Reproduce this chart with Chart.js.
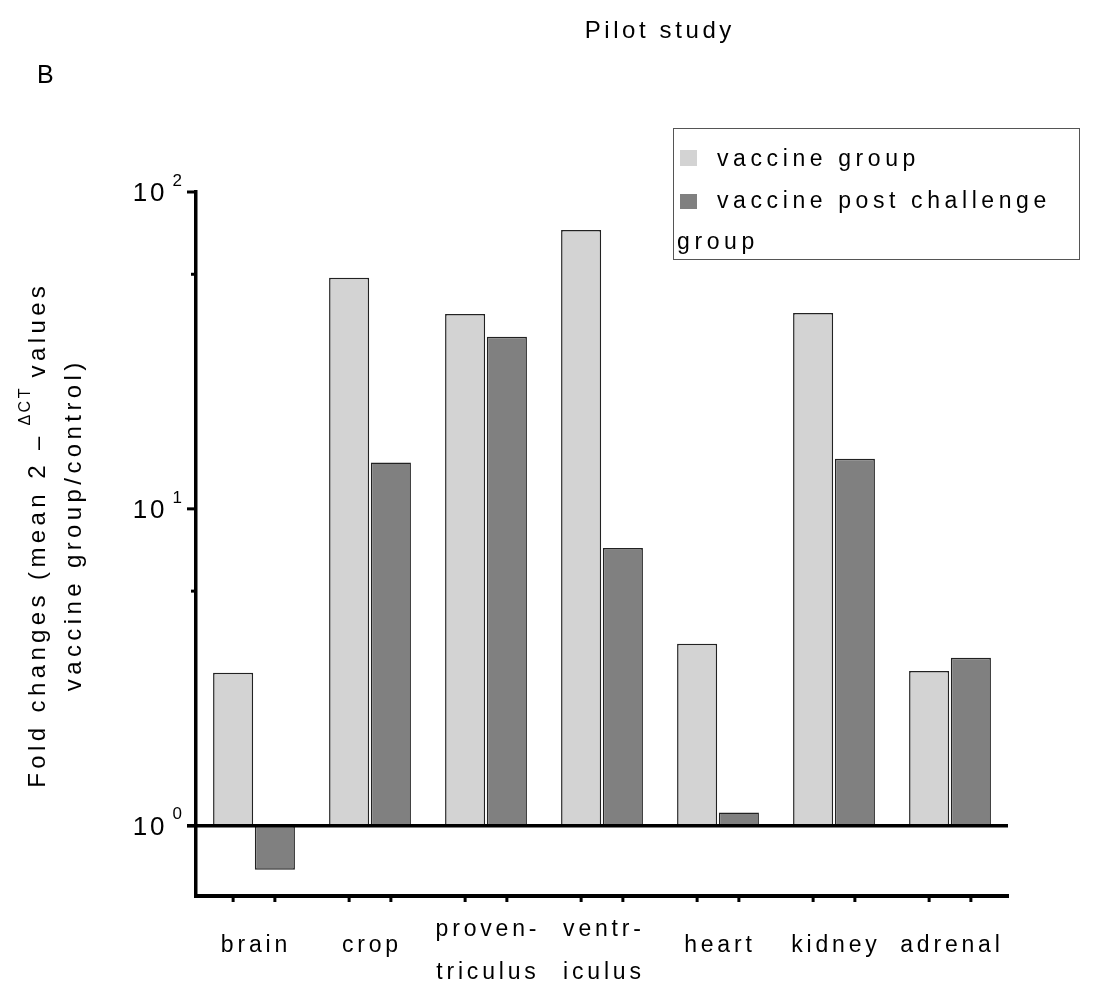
<!DOCTYPE html>
<html>
<head>
<meta charset="utf-8">
<script src="https://cdn.jsdelivr.net/npm/chart.js@4/dist/chart.umd.min.js"></script>
<style>
  body { margin: 0; background: #fff; }
  canvas { display: block; }
</style>
</head>
<body>
<canvas id="foldChart" width="1108" height="989"></canvas>
<script>
// organs on the x axis (two-line names split in arrays)
var organs = [['brain'], ['crop'], ['proven-', 'triculus'], ['ventr-', 'iculus'], ['heart'], ['kidney'], ['adrenal']];
// fold change, mean 2^-dCT, vaccine / control
var vaccineGroup = [3.04, 53.6, 41.2, 75.9, 3.75, 41.5, 3.08];
var postChallengeGroup = [0.726, 14.0, 34.9, 7.53, 1.10, 14.4, 3.39];
// y axis ticks
var yMajorTicks = [1, 10, 100];
var yExponents = ['0', '1', '2'];
var yMinorTicks = [5.5, 55];

var seriesNames = ['vaccine group', 'vaccine post challenge', 'group'];
var lightGrey = '#d3d3d3';
var darkGrey = '#808080';
var FONT = '"Liberation Sans", Arial, sans-serif';

// draw text one glyph at a time so the wide letter spacing shows
function spacedWidth(ctx, str, spacing) {
    var w = 0;
    for (var i = 0; i < str.length; i++) {
        w += ctx.measureText(str[i]).width + (i < str.length - 1 ? spacing : 0);
    }
    return w;
}
function spacedText(ctx, str, x, y, spacing, align) {
    var w = spacedWidth(ctx, str, spacing);
    var cx = x;
    if (align === 'center') cx = x - w / 2;
    if (align === 'right') cx = x - w;
    ctx.textAlign = 'left';
    for (var i = 0; i < str.length; i++) {
        ctx.fillText(str[i], cx, y);
        cx += ctx.measureText(str[i]).width + spacing;
    }
    return w;
}

var decorations = {
    id: 'decorations',
    afterDatasetsDraw: function(chart) {
        var ctx = chart.ctx;
        var area = chart.chartArea;
        var y = chart.scales.y;
        var x = chart.scales.x;
        ctx.save();
        ctx.fillStyle = '#000';
        ctx.strokeStyle = '#000';

        // baseline at 10^0
        var y1 = y.getPixelForValue(1);
        ctx.lineWidth = 3.5;
        ctx.beginPath();
        ctx.moveTo(area.left - 9, y1);
        ctx.lineTo(area.right, y1);
        ctx.stroke();

        // y ticks and 10^n labels
        ctx.lineWidth = 3;
        yMajorTicks.forEach(function(v, i) {
            var py = y.getPixelForValue(v);
            ctx.beginPath();
            ctx.moveTo(area.left - 9, py);
            ctx.lineTo(area.left, py);
            ctx.stroke();
            ctx.textBaseline = 'middle';
            ctx.font = '17px ' + FONT;
            var supW = ctx.measureText(yExponents[i]).width;
            ctx.fillText(yExponents[i], area.left - 14 - supW, py - 11);
            ctx.font = '26px ' + FONT;
            spacedText(ctx, '10', area.left - 22 - supW, py + 2, 3, 'right');
        });
        yMinorTicks.forEach(function(v) {
            var py = y.getPixelForValue(v);
            ctx.beginPath();
            ctx.moveTo(area.left - 5, py);
            ctx.lineTo(area.left, py);
            ctx.stroke();
        });

        // x ticks under each bar
        chart.data.datasets.forEach(function(ds, di) {
            chart.getDatasetMeta(di).data.forEach(function(bar) {
                ctx.beginPath();
                ctx.moveTo(bar.x, area.bottom);
                ctx.lineTo(bar.x, area.bottom + 6);
                ctx.stroke();
            });
        });

        // organ names
        ctx.font = '23px ' + FONT;
        ctx.textBaseline = 'middle';
        organs.forEach(function(lines, i) {
            var px = x.getPixelForValue(i);
            if (lines.length === 1) {
                spacedText(ctx, lines[0], px, area.bottom + 50, 3.8, 'center');
            } else {
                spacedText(ctx, lines[0], px, area.bottom + 34, 3.8, 'center');
                spacedText(ctx, lines[1], px, area.bottom + 77, 3.8, 'center');
            }
        });

        // legend box
        ctx.lineWidth = 1;
        ctx.strokeStyle = '#555';
        ctx.strokeRect(673.5, 128.5, 406, 131);
        ctx.fillStyle = lightGrey;
        ctx.fillRect(680, 150, 17, 16);
        ctx.fillStyle = darkGrey;
        ctx.fillRect(680, 194, 17, 15);
        ctx.fillStyle = '#000';
        ctx.font = '23px ' + FONT;
        spacedText(ctx, seriesNames[0], 717, 160, 4.6, 'left');
        spacedText(ctx, seriesNames[1], 717, 202, 4.6, 'left');
        spacedText(ctx, seriesNames[2], 677, 243, 4.6, 'left');

        // chart title and panel letter
        ctx.font = '24px ' + FONT;
        spacedText(ctx, 'Pilot study', 658, 31, 3.6, 'center');
        ctx.font = '25px ' + FONT;
        ctx.fillText('B', 37, 76);

        // rotated y axis title, 2^-dCT written with a raised dCT
        ctx.translate(38, 537);
        ctx.rotate(-Math.PI / 2);
        ctx.font = '24px ' + FONT;
        var part1 = 'Fold changes (mean 2 \u2013 ';
        var sup = '\u0394CT';
        var part2 = ' values';
        var w1 = spacedWidth(ctx, part1, 4.4);
        var w3 = spacedWidth(ctx, part2, 4.4);
        ctx.font = '16px ' + FONT;
        var w2 = spacedWidth(ctx, sup, 2.5);
        var start = -(w1 + w2 + w3) / 2;
        ctx.font = '24px ' + FONT;
        spacedText(ctx, part1, start, 0, 4.4, 'left');
        ctx.font = '16px ' + FONT;
        spacedText(ctx, sup, start + w1, -12, 2.5, 'left');
        ctx.font = '24px ' + FONT;
        spacedText(ctx, part2, start + w1 + w2, 0, 4.4, 'left');
        spacedText(ctx, 'vaccine group/control)', 10, 36, 4.4, 'center');
        ctx.restore();
    }
};

var ctx = document.getElementById('foldChart');
var foldChart = new Chart(ctx, {
    type: 'bar',
    data: {
        labels: organs,
        datasets: [{
            label: seriesNames[0],
            data: vaccineGroup,
            base: 1,
            backgroundColor: lightGrey,
            borderColor: '#222',
            borderWidth: 1.5,
            borderSkipped: false,
            categoryPercentage: 0.72,
            barPercentage: 0.96
        }, {
            label: seriesNames[1] + ' ' + seriesNames[2],
            data: postChallengeGroup,
            base: 1,
            backgroundColor: darkGrey,
            borderColor: '#222',
            borderWidth: 1.5,
            borderSkipped: false,
            categoryPercentage: 0.72,
            barPercentage: 0.96
        }]
    },
    options: {
        responsive: false,
        animation: false,
        layout: { padding: { left: 196, top: 192, right: 100, bottom: 93 } },
        plugins: {
            legend: { display: false },
            tooltip: { enabled: false }
        },
        scales: {
            x: {
                offset: true,
                grid: { display: false, drawTicks: false },
                ticks: { display: false },
                border: { display: true, width: 4, color: '#000' }
            },
            y: {
                type: 'logarithmic',
                min: 0.6,
                max: 100,
                grid: { display: false, drawTicks: false },
                ticks: { display: false },
                border: { display: true, width: 3.5, color: '#000' }
            }
        }
    },
    plugins: [decorations]
});
</script>
</body>
</html>
